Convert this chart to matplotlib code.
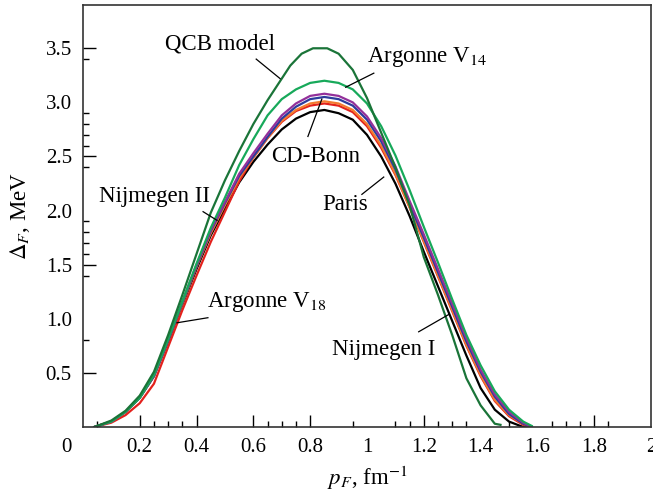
import numpy as np
import matplotlib
matplotlib.use("Agg")
import matplotlib.pyplot as plt
from matplotlib.transforms import ScaledTranslation

plt.rcParams['font.family'] = ['Liberation Serif', 'DejaVu Serif']
plt.rcParams['mathtext.fontset'] = 'stix'

# 1S0 gap for the different NN potentials, read on a common p_F grid
p_grid = [0.04, 0.10, 0.15, 0.20, 0.25, 0.30, 0.35, 0.40, 0.45, 0.50, 0.55,
          0.60, 0.65, 0.70, 0.75, 0.80, 0.85, 0.90, 0.95, 1.00, 1.05, 1.10,
          1.15, 1.20, 1.25, 1.30, 1.35, 1.40, 1.45, 1.50, 1.55, 1.58]

gap_paris = [0.0, 0.05, 0.14, 0.27, 0.47, 0.79, 1.13, 1.46, 1.77, 2.02, 2.26,
             2.45, 2.61, 2.75, 2.85, 2.91, 2.93, 2.90, 2.84, 2.70, 2.50, 2.25,
             1.95, 1.62, 1.30, 0.98, 0.66, 0.36, 0.16, 0.05, 0.0, 0.0]
gap_av18 = [0.0, 0.04, 0.11, 0.22, 0.40, 0.74, 1.08, 1.40, 1.71, 1.99, 2.27,
            2.49, 2.67, 2.82, 2.92, 2.97, 2.99, 2.97, 2.91, 2.78, 2.58, 2.33,
            2.03, 1.71, 1.39, 1.07, 0.75, 0.47, 0.24, 0.10, 0.02, 0.0]
gap_nijm1 = [0.0, 0.05, 0.14, 0.27, 0.47, 0.80, 1.14, 1.48, 1.79, 2.05, 2.30,
             2.49, 2.67, 2.83, 2.93, 2.99, 3.01, 2.99, 2.93, 2.80, 2.60, 2.34,
             2.03, 1.72, 1.40, 1.08, 0.76, 0.48, 0.25, 0.11, 0.03, 0.0]
gap_cdbonn = [0.0, 0.05, 0.14, 0.27, 0.47, 0.80, 1.15, 1.49, 1.81, 2.07, 2.32,
              2.50, 2.68, 2.85, 2.96, 3.03, 3.05, 3.03, 2.97, 2.84, 2.64, 2.38,
              2.06, 1.75, 1.43, 1.11, 0.79, 0.51, 0.28, 0.12, 0.03, 0.0]
gap_nijm2 = [0.0, 0.05, 0.14, 0.28, 0.48, 0.81, 1.16, 1.50, 1.82, 2.08, 2.34,
             2.53, 2.71, 2.88, 2.99, 3.06, 3.08, 3.06, 3.00, 2.87, 2.67, 2.41,
             2.09, 1.78, 1.46, 1.14, 0.82, 0.53, 0.30, 0.14, 0.04, 0.0]
gap_av14 = [0.0, 0.05, 0.14, 0.27, 0.48, 0.81, 1.16, 1.51, 1.84, 2.12, 2.42,
            2.66, 2.88, 3.03, 3.12, 3.18, 3.20, 3.18, 3.12, 2.99, 2.78, 2.51,
            2.19, 1.85, 1.52, 1.18, 0.85, 0.57, 0.33, 0.16, 0.05, 0.01]

p_qcb = [0.04, 0.10, 0.15, 0.20, 0.25, 0.30, 0.35, 0.40, 0.45, 0.50, 0.55,
         0.60, 0.65, 0.70, 0.73, 0.77, 0.81, 0.86, 0.90, 0.95, 1.00, 1.05,
         1.10, 1.15, 1.20, 1.25, 1.30, 1.35, 1.40, 1.45, 1.47]
gap_qcb = [0.0, 0.06, 0.15, 0.29, 0.51, 0.85, 1.22, 1.60, 1.98, 2.28, 2.55,
           2.80, 3.02, 3.22, 3.34, 3.45, 3.50, 3.50, 3.45, 3.30, 3.04, 2.72,
           2.40, 2.05, 1.57, 1.22, 0.85, 0.45, 0.20, 0.03, 0.02]

fig = plt.figure(figsize=(6.53, 5.0), dpi=100)
ax = fig.add_axes([0.127, 0.146, 0.870, 0.844])

lw = 1.6
ax.plot(p_grid, gap_paris, color='black', lw=lw)
ax.plot(p_grid, gap_av18, color='#e3211c', lw=lw)
ax.plot(p_grid, gap_nijm1, color='#f47b2f', lw=lw)
ax.plot(p_grid, gap_cdbonn, color='#2c3c9c', lw=lw)
ax.plot(p_grid, gap_nijm2, color='#93309a', lw=lw)
ax.plot(p_grid, gap_av14, color='#17a95a', lw=lw)
ax.plot(p_qcb, gap_qcb, color='#1a7438', lw=lw)

ax.set_xlim(0, 2.0)
ax.set_ylim(0, 3.9)

# ticks
xt = [0, 0.2, 0.4, 0.6, 0.8, 1.0, 1.2, 1.4, 1.6, 1.8, 2.0]
ax.set_xticks(xt)
ax.set_xticklabels(['0', '0.2', '0.4', '0.6', '0.8', '1', '1.2', '1.4', '1.6', '1.8', '2'])
ax.set_xticks([0.05, 0.25, 0.3, 0.35, 0.65, 0.7, 0.75, 0.95, 1.1, 1.15, 1.25,
               1.3, 1.35, 1.5, 1.65, 1.7, 1.75, 1.85], minor=True)
yt = [0.5, 1.0, 1.5, 2.0, 2.5, 3.0, 3.5]
ax.set_yticks(yt)
ax.set_yticklabels(['0.5', '1.0', '1.5', '2.0', '2.5', '3.0', '3.5'])
ax.set_yticks([0.8, 1.0, 1.4, 1.6, 1.7, 1.8, 1.9, 2.4, 2.6, 2.7, 2.8, 2.9, 3.4],
              minor=True)
ax.tick_params(which='both', direction='in', labelsize=15, width=1.0,
               top=False, right=False)
ax.tick_params(which='major', length=9, pad=8)
ax.tick_params(which='minor', length=4.5)

# no long marks at the integer labels
for i, t in enumerate(ax.xaxis.get_major_ticks()):
    if xt[i] in (0, 1.0, 1.4, 1.6, 2.0):
        t.tick1line.set_markersize(0)
for i, t in enumerate(ax.yaxis.get_major_ticks()):
    if yt[i] in (1.0, 2.0, 3.0):
        t.tick1line.set_markersize(0)

lbl0 = ax.get_xticklabels()[0]
lbl0.set_transform(lbl0.get_transform() + ScaledTranslation(-0.16, 0, fig.dpi_scale_trans))

for s in ax.spines.values():
    s.set_linewidth(1.2)
    s.set_color('#333333')

ax.set_xlabel('$p_F$, fm$^{-1}$', fontsize=16.5, labelpad=5)
ax.set_ylabel('$\\Delta_F$, MeV', fontsize=16.5, labelpad=10)

# curve labels with leader lines
fs = 16.5
ax.text(0.483, 3.54, 'QCB model', fontsize=fs, ha='center', va='center')
ax.plot([0.61, 0.694], [3.40, 3.22], color='black', lw=0.9)
ax.text(1.0, 3.42, 'Argonne V$_{\\rm 14}$', fontsize=fs, ha='left', va='center')
ax.plot([1.024, 0.925], [3.27, 3.14], color='black', lw=0.9)
ax.text(0.662, 2.50, 'CD-Bonn', fontsize=fs, ha='left', va='center')
ax.plot([0.792, 0.841], [2.685, 3.03], color='black', lw=0.9)
ax.text(0.057, 2.13, 'Nijmegen II', fontsize=fs, ha='left', va='center')
ax.plot([0.423, 0.472], [1.99, 1.91], color='black', lw=0.9)
ax.text(0.842, 2.06, 'Paris', fontsize=fs, ha='left', va='center')
ax.plot([0.982, 1.059], [2.15, 2.31], color='black', lw=0.9)
ax.text(0.437, 1.157, 'Argonne V$_{\\rm 18}$', fontsize=fs, ha='left', va='center')
ax.plot([0.44, 0.331], [1.01, 0.963], color='black', lw=0.9)
ax.text(0.876, 0.713, 'Nijmegen I', fontsize=fs, ha='left', va='center')
ax.plot([1.182, 1.288], [0.88, 1.04], color='black', lw=0.9)

fig.savefig('out.png', dpi=100)
